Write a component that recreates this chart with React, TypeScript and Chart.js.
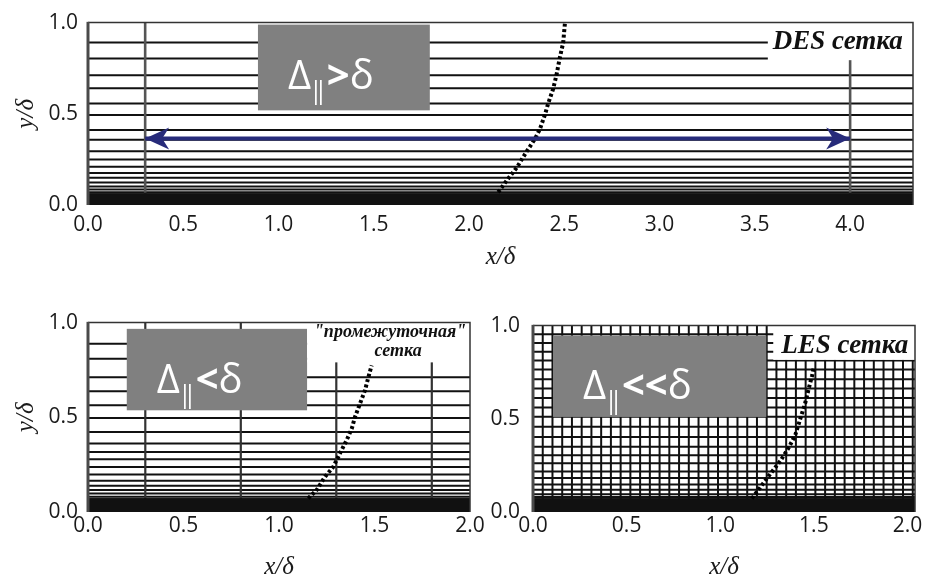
import React, { useEffect, useRef } from 'react';
import { Chart, registerables } from 'chart.js';

Chart.register(...registerables);

// ---------------- tick labels ----------------
const topXTicks = [0, 0.5, 1.0, 1.5, 2.0, 2.5, 3.0, 3.5, 4.0];
const bottomXTicks = [0, 0.5, 1.0, 1.5, 2.0];
const yTicks = [0, 0.5, 1.0];

// ---------------- DES grid (top panel) ----------------
const desXMax = 4.33;
const desYLines = [0.891, 0.803, 0.711, 0.64, 0.556, 0.494, 0.411, 0.358, 0.295, 0.25, 0.21, 0.176, 0.15, 0.123, 0.102, 0.085, 0.07];
const desXLines = [0.3, 4.0];
const desWall = 0.065;
const desCurveX = [2.153, 2.196, 2.249, 2.301, 2.345, 2.371, 2.398, 2.415, 2.441, 2.459, 2.476, 2.494, 2.503];
const desCurveY = [0.07, 0.132, 0.203, 0.291, 0.361, 0.414, 0.494, 0.556, 0.635, 0.714, 0.806, 0.89, 0.995];
const desArrowX = [0.3, 4.0];
const desArrowY = [0.365, 0.365];

// ---------------- intermediate grid (bottom left) ----------------
const midXMax = 2.0;
const midYLines = [0.888, 0.809, 0.712, 0.637, 0.563, 0.496, 0.423, 0.362, 0.317, 0.279, 0.238, 0.198, 0.165, 0.138, 0.116, 0.098, 0.081];
const midXLines = [0.3, 0.8, 1.3, 1.8];
const midWall = 0.072;
const midCurveX = [1.153, 1.197, 1.241, 1.284, 1.319, 1.354, 1.381, 1.398, 1.424, 1.45, 1.468, 1.485];
const midCurveY = [0.072, 0.116, 0.186, 0.238, 0.309, 0.379, 0.44, 0.502, 0.572, 0.642, 0.712, 0.774];

// ---------------- LES grid (bottom right) ----------------
const lesXMax = 2.04;
const lesYLines = [0.953, 0.907, 0.86, 0.813, 0.765, 0.712, 0.663, 0.612, 0.561, 0.511, 0.458, 0.403, 0.35, 0.305, 0.261, 0.217, 0.182, 0.147, 0.12, 0.095, 0.08];
const lesXLines = [0.052, 0.104, 0.156, 0.208, 0.26, 0.312, 0.364, 0.416, 0.468, 0.52, 0.572, 0.624, 0.676, 0.728, 0.78, 0.832, 0.884, 0.936, 0.988, 1.04, 1.092, 1.144, 1.196, 1.248, 1.3, 1.352, 1.404, 1.456, 1.508, 1.56, 1.612, 1.664, 1.716, 1.768, 1.82, 1.872, 1.924, 1.976, 2.028];
const lesWall = 0.072;
const lesCurveX = [1.169, 1.214, 1.267, 1.321, 1.365, 1.401, 1.428, 1.455, 1.472, 1.49, 1.499];
const lesCurveY = [0.072, 0.133, 0.204, 0.274, 0.344, 0.414, 0.502, 0.589, 0.66, 0.73, 0.774];

// ---------------- types ----------------
type Rect = { x0: number; x1: number; y0: number; y1: number };
type LabelLine = { text: string; dx: number; dy: number; align: 'left' | 'center' };
type Spec = {
  id: string;
  pos: { left: number; top: number; width: number; height: number };
  pad: { top: number; right: number };
  yWidth: number;
  xHeight: number;
  xMax: number;
  xTicks: number[];
  xTickPad: number;
  yTickPad: number;
  yTitle: boolean;
  yLines: number[];
  xLines: number[];
  vColor: string;
  vWidth: number;
  hWidth: number;
  wall: number;
  curveX: number[];
  curveY: number[];
  arrowX?: number[];
  arrowY?: number[];
  deltaBox: Rect;
  deltaRel: string;
  labelBox: Rect;
  labelFont: string;
  labelLines: LabelLine[];
};

const TICK_FONT = '"Open Sans", "DejaVu Sans", sans-serif';
const SERIF = '"Liberation Serif", "DejaVu Serif", serif';
const NAVY = '#272b7a';

function drawDelta(ctx: CanvasRenderingContext2D, x: number, base: number, rel: string) {
  ctx.save();
  ctx.fillStyle = '#ffffff';
  ctx.textAlign = 'left';
  ctx.textBaseline = 'alphabetic';
  ctx.font = `40px ${TICK_FONT}`;
  ctx.fillText('Δ', x, base);
  x += ctx.measureText('Δ').width - 2;
  ctx.font = `25px ${TICK_FONT}`;
  ctx.fillText('|', x, base + 10);
  ctx.fillText('|', x + 5, base + 10);
  x += 5 + ctx.measureText('|').width - 1;
  ctx.font = `bold 40px ${TICK_FONT}`;
  ctx.fillText(rel, x, base);
  x += ctx.measureText(rel).width;
  ctx.font = `40px ${TICK_FONT}`;
  ctx.fillText('δ', x, base);
  ctx.restore();
}

function arrowHead(ctx: CanvasRenderingContext2D, tipX: number, tipY: number, dir: number) {
  const L = 24;
  const W = 11;
  const N = 17;
  ctx.beginPath();
  ctx.moveTo(tipX, tipY);
  ctx.lineTo(tipX - dir * L, tipY - W);
  ctx.lineTo(tipX - dir * N, tipY);
  ctx.lineTo(tipX - dir * L, tipY + W);
  ctx.closePath();
  ctx.fill();
}

function makeOverlay(s: Spec) {
  return {
    id: 'overlay-' + s.id,
    afterDatasetsDraw(chart: any) {
      const { ctx, chartArea } = chart;
      const xs = chart.scales.x;
      const ys = chart.scales.y;
      ctx.save();
      // arrow heads
      if (s.arrowX && s.arrowY) {
        ctx.fillStyle = NAVY;
        const x0 = xs.getPixelForValue(s.arrowX[0]);
        const x1 = xs.getPixelForValue(s.arrowX[1]);
        const y0 = ys.getPixelForValue(s.arrowY[0]);
        const y1 = ys.getPixelForValue(s.arrowY[1]);
        arrowHead(ctx, x0, y0, -1);
        arrowHead(ctx, x1, y1, 1);
      }
      // gray delta box
      {
        const l = xs.getPixelForValue(s.deltaBox.x0);
        const r = xs.getPixelForValue(s.deltaBox.x1);
        const t = ys.getPixelForValue(s.deltaBox.y1);
        const b = ys.getPixelForValue(s.deltaBox.y0);
        ctx.fillStyle = '#808080';
        ctx.fillRect(l, t, r - l, b - t);
        drawDelta(ctx, l + 30, t + 64, s.deltaRel);
      }
      // white label box
      {
        const l = xs.getPixelForValue(s.labelBox.x0);
        const r = xs.getPixelForValue(s.labelBox.x1);
        const t = ys.getPixelForValue(s.labelBox.y1);
        const b = ys.getPixelForValue(s.labelBox.y0);
        ctx.fillStyle = '#ffffff';
        ctx.fillRect(l, t, r - l, b - t);
        ctx.fillStyle = '#111111';
        ctx.font = s.labelFont;
        ctx.textBaseline = 'alphabetic';
        for (const line of s.labelLines) {
          ctx.textAlign = line.align;
          const x = line.align === 'center' ? (l + r) / 2 + line.dx : l + line.dx;
          ctx.fillText(line.text, x, t + line.dy);
        }
      }
      // frame
      const { left, right, top, bottom } = chartArea;
      ctx.strokeStyle = '#333333';
      ctx.lineWidth = 1.5;
      ctx.beginPath();
      ctx.moveTo(left, top);
      ctx.lineTo(right, top);
      ctx.lineTo(right, bottom);
      ctx.stroke();
      ctx.strokeStyle = '#4a4a4a';
      ctx.lineWidth = 3;
      ctx.beginPath();
      ctx.moveTo(left, top - 0.75);
      ctx.lineTo(left, bottom);
      ctx.stroke();
      ctx.restore();
    },
  };
}

function buildConfig(s: Spec): any {
  const hData = s.yLines.flatMap((v) => [
    { x: 0, y: v },
    { x: s.xMax, y: v },
    { x: s.xMax, y: null },
  ]);
  const vData = s.xLines.flatMap((v) => [
    { x: v, y: 0 },
    { x: v, y: 1 },
    { x: v, y: null },
  ]);
  const wallData = [
    { x: 0, y: s.wall },
    { x: s.xMax, y: s.wall },
  ];
  const curve = s.curveX.map((x, i) => ({ x, y: s.curveY[i] }));
  const datasets: any[] = [
    { label: 'wall', data: wallData, fill: 'origin', backgroundColor: '#111111', borderColor: '#111111', borderWidth: 1, pointRadius: 0, order: 2 },
    { label: 'grid-h', data: hData, borderColor: '#111111', borderWidth: s.hWidth, pointRadius: 0, fill: false, spanGaps: false, order: 4 },
    { label: 'grid-v', data: vData, borderColor: s.vColor, borderWidth: s.vWidth, pointRadius: 0, fill: false, spanGaps: false, order: 3 },
    { label: 'profile', data: curve, borderColor: '#000000', borderWidth: 4, borderDash: [3, 2.5], pointRadius: 0, fill: false, order: 1 },
  ];
  if (s.arrowX && s.arrowY) {
    datasets.push({
      label: 'arrow',
      data: s.arrowX.map((x, i) => ({ x, y: s.arrowY![i] })),
      borderColor: NAVY,
      borderWidth: 4,
      pointRadius: 0,
      fill: false,
      order: 0,
    });
  }
  const fmt = (v: any) => Number(v).toFixed(1);
  return {
    type: 'line',
    data: { datasets },
    plugins: [makeOverlay(s)],
    options: {
      responsive: false,
      animation: false,
      events: [],
      layout: { padding: { left: 0, right: s.pad.right, top: s.pad.top, bottom: 0 } },
      plugins: { legend: { display: false }, tooltip: { enabled: false } },
      scales: {
        x: {
          type: 'linear',
          min: 0,
          max: s.xMax,
          grid: { display: false, drawTicks: false },
          border: { display: false },
          afterBuildTicks: (sc: any) => {
            sc.ticks = s.xTicks.map((v) => ({ value: v }));
          },
          afterFit: (sc: any) => {
            sc.height = s.xHeight;
          },
          ticks: {
            autoSkip: false,
            maxRotation: 0,
            padding: s.xTickPad,
            color: '#1a1a1a',
            font: { family: TICK_FONT, size: 21 },
            callback: fmt,
          },
          title: {
            display: true,
            text: 'x/δ',
            color: '#1a1a1a',
            font: { family: SERIF, size: 25, style: 'italic' },
            padding: { top: 0, bottom: 8 },
          },
        },
        y: {
          type: 'linear',
          min: 0,
          max: 1,
          grid: { display: false, drawTicks: false },
          border: { display: false },
          afterBuildTicks: (sc: any) => {
            sc.ticks = yTicks.map((v) => ({ value: v }));
          },
          afterFit: (sc: any) => {
            sc.width = s.yWidth;
          },
          ticks: {
            autoSkip: false,
            padding: s.yTickPad,
            color: '#1a1a1a',
            font: { family: TICK_FONT, size: 21 },
            callback: fmt,
          },
          title: {
            display: s.yTitle,
            text: 'y/δ',
            color: '#1a1a1a',
            font: { family: SERIF, size: 25, style: 'italic' },
            padding: { top: 11, bottom: 0 },
          },
        },
      },
    },
  };
}

const specs: Spec[] = [
  {
    id: 'des',
    pos: { left: 0, top: 0, width: 928, height: 280 },
    pad: { top: 16, right: 15 },
    yWidth: 88,
    xHeight: 75,
    xMax: desXMax,
    xTicks: topXTicks,
    xTickPad: 7,
    yTickPad: 10,
    yTitle: true,
    yLines: desYLines,
    xLines: desXLines,
    vColor: '#555555',
    vWidth: 2.6,
    hWidth: 2,
    wall: desWall,
    curveX: desCurveX,
    curveY: desCurveY,
    arrowX: desArrowX,
    arrowY: desArrowY,
    deltaBox: { x0: 0.892, x1: 1.794, y0: 0.519, y1: 0.989 },
    deltaRel: '>',
    labelBox: { x0: 3.568, x1: 4.33, y0: 0.794, y1: 1.0 },
    labelFont: `bold italic 27px ${SERIF}`,
    labelLines: [{ text: 'DES сетка', dx: 5, dy: 26, align: 'left' }],
  },
  {
    id: 'mid',
    pos: { left: 0, top: 300, width: 500, height: 290 },
    pad: { top: 22, right: 30 },
    yWidth: 88,
    xHeight: 78,
    xMax: midXMax,
    xTicks: bottomXTicks,
    xTickPad: 1,
    yTickPad: 10,
    yTitle: true,
    yLines: midYLines,
    xLines: midXLines,
    vColor: '#333333',
    vWidth: 2.2,
    hWidth: 2,
    wall: midWall,
    curveX: midCurveX,
    curveY: midCurveY,
    deltaBox: { x0: 0.203, x1: 1.147, y0: 0.537, y1: 0.967 },
    deltaRel: '<',
    labelBox: { x0: 1.147, x1: 2.0, y0: 0.79, y1: 1.0 },
    labelFont: `bold italic 18px ${SERIF}`,
    labelLines: [
      { text: '"промежуточная"', dx: 1.5, dy: 14, align: 'center' },
      { text: 'сетка', dx: 9.5, dy: 33, align: 'center' },
    ],
  },
  {
    id: 'les',
    pos: { left: 460, top: 300, width: 468, height: 290 },
    pad: { top: 22, right: 13 },
    yWidth: 73,
    xHeight: 78,
    xMax: lesXMax,
    xTicks: bottomXTicks,
    xTickPad: 1,
    yTickPad: 13,
    yTitle: false,
    yLines: lesYLines,
    xLines: lesXLines,
    vColor: '#111111',
    vWidth: 2,
    hWidth: 2,
    wall: lesWall,
    curveX: lesCurveX,
    curveY: lesCurveY,
    deltaBox: { x0: 0.107, x1: 1.246, y0: 0.51, y1: 0.947 },
    deltaRel: '<<',
    labelBox: { x0: 1.283, x1: 2.04, y0: 0.816, y1: 1.0 },
    labelFont: `bold italic 27px ${SERIF}`,
    labelLines: [{ text: 'LES сетка', dx: 8, dy: 27, align: 'left' }],
  },
];

function Panel({ spec }: { spec: Spec }) {
  const ref = useRef<HTMLCanvasElement>(null);
  useEffect(() => {
    if (!ref.current) return;
    const chart = new Chart(ref.current, buildConfig(spec));
    return () => chart.destroy();
  }, [spec]);
  return (
    <canvas
      ref={ref}
      width={spec.pos.width}
      height={spec.pos.height}
      style={{
        position: 'absolute',
        left: spec.pos.left,
        top: spec.pos.top,
        width: spec.pos.width,
        height: spec.pos.height,
      }}
    />
  );
}

export default function App() {
  return (
    <div
      style={{
        position: 'absolute',
        left: 0,
        top: 0,
        width: 928,
        height: 579,
        overflow: 'hidden',
        background: '#ffffff',
      }}
    >
      {specs.map((s) => (
        <Panel key={s.id} spec={s} />
      ))}
    </div>
  );
}
